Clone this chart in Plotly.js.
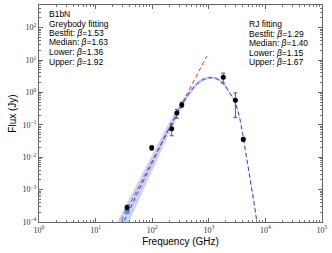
<!DOCTYPE html>
<html><head><meta charset="utf-8">
<script src="https://cdn.plot.ly/plotly-3.0.1.min.js"></script>
<style>html,body{margin:0;padding:0;background:#fff}#c{width:332px;height:253px}</style>
</head><body><div id="c"></div>
<script>
// Observed photometry
const obsFreq = [36, 98, 221, 272, 333, 1800, 2950, 4070];
const obsFlux = [2.8e-4, 0.0195, 0.076, 0.23, 0.42, 2.95, 0.57, 0.036];
const obsErr  = [0.5e-4, 0.003, 0.03, 0.07, 0.08, 1.0, 0.4, 0.005];
// model value at 36 GHz (square)
const sqFreq = [36];
const sqFlux = [2.1e-4];
// Greybody best-fit curve
const gbFreq = [25, 32, 40, 50, 63, 79, 100, 126, 158, 200, 251, 316, 398, 501, 631, 794, 1000, 1122, 1259, 1585, 1995, 2239, 2512, 2818, 3162, 3548, 3981, 4467, 5012, 5623, 6310, 7079, 7943];
const gbFlux = [4.57e-5, 1.05e-4, 2.40e-4, 5.50e-4, 1.29e-3, 2.95e-3, 6.76e-3, 0.0155, 0.0355, 0.0794, 0.170, 0.355, 0.692, 1.23, 1.91, 2.51, 2.85, 2.92, 2.85, 2.34, 1.51, 1.10, 0.813, 0.575, 0.331, 0.151, 0.0501, 0.0158, 4.79e-3, 1.38e-3, 3.80e-4, 1.0e-4, 2.51e-5];
const gbUpper = [1.15e-4, 2.48e-4, 5.37e-4, 1.16e-3, 2.57e-3, 5.56e-3, 0.0120, 0.0260, 0.0562, 0.119, 0.240, 0.473, 0.871, 1.48, 2.19, 2.82, 3.13, 3.20, 3.13, 2.57, 1.66, 1.20, 0.891, 0.631, 0.363, 0.170, 0.0562, 0.0182, 5.50e-3, 1.62e-3, 4.47e-4, 1.20e-4, 3.02e-5];
const gbLower = [1.82e-5, 4.42e-5, 1.07e-4, 2.60e-4, 6.46e-4, 1.57e-3, 3.80e-3, 9.23e-3, 0.0224, 0.0531, 0.120, 0.266, 0.550, 1.02, 1.66, 2.24, 2.60, 2.66, 2.60, 2.14, 1.38, 1.00, 0.741, 0.525, 0.302, 0.135, 0.0447, 0.0138, 4.17e-3, 1.17e-3, 3.24e-4, 8.32e-5, 2.09e-5];
// Rayleigh-Jeans power law
const rjFreq = [25.1, 918];
const rjFlux = [7.3e-5, 13.1];
// tick labels
const xTickVals = [1, 10, 100, 1000, 1e4, 1e5];
const xTickText = ['10<sup>0</sup>','10<sup>1</sup>','10<sup>2</sup>','10<sup>3</sup>','10<sup>4</sup>','10<sup>5</sup>'];
const yTickVals = [1e-4, 1e-3, 1e-2, 1e-1, 1, 10, 100];
const yTickText = ['10<sup>−4</sup>','10<sup>−3</sup>','10<sup>−2</sup>','10<sup>−1</sup>','10<sup>0</sup>','10<sup>1</sup>','10<sup>2</sup>'];
const leftText = ['B1bN', 'Greybody fitting', 'Bestfit: <i>β</i>=1.53', 'Median: <i>β</i>=1.63', 'Lower: <i>β</i>=1.36', 'Upper: <i>β</i>=1.92'];
const rightText = ['RJ fitting', 'Bestfit: <i>β</i>=1.29', 'Median: <i>β</i>=1.40', 'Lower: <i>β</i>=1.15', 'Upper: <i>β</i>=1.67'];

const traces = [
  {x: gbFreq, y: gbLower, mode:'lines', line:{width:0, color:'rgba(0,0,0,0)'}, showlegend:false, hoverinfo:'skip'},
  {x: gbFreq, y: gbUpper, mode:'lines', line:{width:0, color:'rgba(0,0,0,0)'}, fill:'tonexty', fillcolor:'rgba(120,140,230,0.4)', showlegend:false, hoverinfo:'skip'},
  {x: rjFreq, y: rjFlux, mode:'lines', line:{color:'#ee3030', width:1, dash:'4px,3px'}, showlegend:false},
  {x: gbFreq, y: gbFlux, mode:'lines', line:{color:'#2a3ee0', width:1, dash:'4px,3px'}, showlegend:false},
  {x: sqFreq, y: sqFlux, mode:'markers', marker:{symbol:'square', size:5, color:'#4a9cc4'}, showlegend:false},
  {x: obsFreq, y: obsFlux, mode:'markers', marker:{symbol:'circle', size:5, color:'#000'},
   error_y:{type:'data', array: obsErr, visible:true, color:'#555', thickness:1, width:2}, showlegend:false}
];

const ann = [];
const pxToPaperY = py => (222 - py) / 217;
const pxToPaperX = px => (px - 39) / 283;
leftText.forEach((t,i) => ann.push({xref:'paper', yref:'paper', x:pxToPaperX(47), y:pxToPaperY(14 + i*9.5), xanchor:'left', yanchor:'middle', text:t, showarrow:false, font:{family:'Liberation Sans, Arial, sans-serif', size:8.5, color:'#000'}}));
rightText.forEach((t,i) => ann.push({xref:'paper', yref:'paper', x:pxToPaperX(247), y:pxToPaperY(24.3 + i*9.5), xanchor:'left', yanchor:'middle', text:t, showarrow:false, font:{family:'Liberation Sans, Arial, sans-serif', size:8.5, color:'#000'}}));

const axCommon = {type:'log', showgrid:false, zeroline:false, showline:true, linecolor:'#666', linewidth:1, mirror:'allticks', ticks:'inside', ticklen:4, tickcolor:'#666', tickmode:'array',
  tickfont:{family:'Liberation Serif, DejaVu Serif, serif', size:8, color:'#333'},
  minor:{tickmode:'linear', dtick:'D1', ticks:'inside', ticklen:2, tickcolor:'#777', showgrid:false}};

const layout = {
  width:332, height:253, margin:{l:39, r:10, t:5, b:31}, paper_bgcolor:'#fff', plot_bgcolor:'#fff',
  xaxis: Object.assign({}, axCommon, {range:[0,5], tickvals:xTickVals, ticktext:xTickText,
     title:{text:'Frequency (GHz)', font:{family:'Liberation Sans, Arial, sans-serif', size:10, color:'#000'}, standoff:4}}),
  yaxis: Object.assign({}, axCommon, {range:[-4,2.7], tickvals:yTickVals, ticktext:yTickText,
     title:{text:'Flux (Jy)', font:{family:'Liberation Sans, Arial, sans-serif', size:10, color:'#000'}, standoff:3}}),
  annotations: ann, showlegend:false
};
Plotly.newPlot('c', traces, layout, {staticPlot:true, displayModeBar:false});
</script></body></html>
